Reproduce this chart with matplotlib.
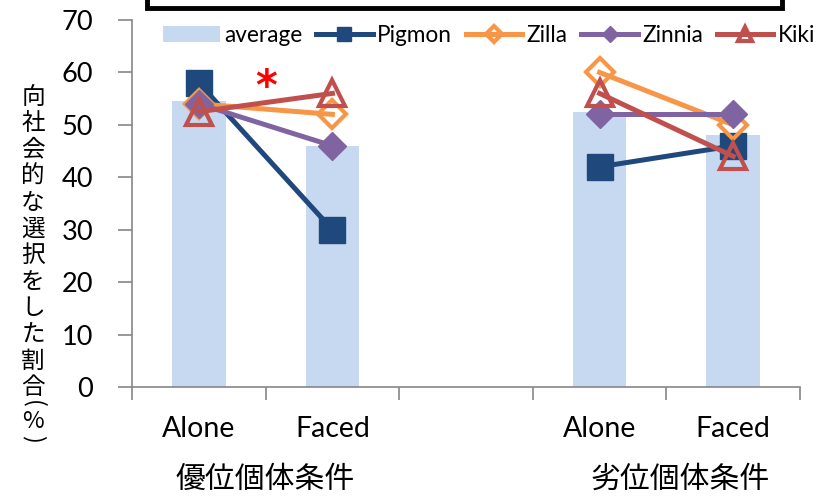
import matplotlib
matplotlib.use("Agg")
import matplotlib.pyplot as plt
from matplotlib.patches import Rectangle
import numpy as np

plt.rcParams['font.family'] = ['Lato', 'Noto Sans CJK JP', 'DejaVu Sans']

# ---- data ----
conditions = ["Alone", "Faced", "", "Alone", "Faced"]
groups = ["優位個体条件", "劣位個体条件"]
average = [54.5, 46.0, 52.5, 48.0]
pigmon = [58, 30, 42, 46]
zilla = [54, 52, 60, 50]
zinnia = [54, 46, 52, 52]
kiki = [52.5, 56, 56, 44]
y_label = "向社会的な選択をした割合(%)"
y_ticks = [0, 10, 20, 30, 40, 50, 60, 70]

W, H = 836, 496
fig = plt.figure(figsize=(W / 100, H / 100), dpi=100)
ax = fig.add_axes([132 / W, 1 - 387 / H, (800 - 132) / W, (387 - 20) / H])

xpos = [0, 1, 3, 4]
bar_color = "#C6D9F1"
bars = ax.bar(xpos, average, width=0.4, color=bar_color, zorder=1, label="average")
handles = [bars]

series = [
    ("Pigmon", pigmon, "#1F497D", "s", dict(markerfacecolor="#1F497D", markersize=19)),
    ("Zilla", zilla, "#F79646", "D", dict(markerfacecolor="none", markersize=14, markeredgewidth=3)),
    ("Zinnia", zinnia, "#8064A2", "D", dict(markerfacecolor="#8064A2", markersize=14)),
    ("Kiki", kiki, "#C0504D", "^", dict(markerfacecolor="none", markersize=19, markeredgewidth=3)),
]
for i, (name, vals, col, mk, kw) in enumerate(series):
    for j, (a, b) in enumerate([(0, 2), (2, 4)]):
        ln, = ax.plot(xpos[a:b], vals[a:b], color=col, lw=3.6, marker=mk,
                      markeredgecolor=col, zorder=3 + i,
                      label=name if j == 0 else None, **kw)
        if j == 0:
            handles.append(ln)

ax.set_xlim(-0.5, 4.5)
ax.set_ylim(0, 70)
ax.set_yticks(y_ticks)
ax.set_xticks(range(5))
ax.set_xticklabels(conditions)
ax.set_xticks(np.arange(-0.5, 4.6, 1), minor=True)
ax.tick_params(axis="x", which="major", length=0, pad=21, labelsize=20.5)
ax.tick_params(axis="x", which="minor", length=9, width=1.2, color="#868686", direction="out")
ax.tick_params(axis="y", length=10, width=1.2, color="#868686", direction="out", pad=18, labelsize=19.5)
for s in ["top", "right"]:
    ax.spines[s].set_visible(False)
for s in ["left", "bottom"]:
    ax.spines[s].set_color("#868686")
    ax.spines[s].set_linewidth(1.2)

# group labels
gy = -(479 - 387) / (387 - 20)
ax.text(0.5, gy, groups[0], ha="center", va="center", fontsize=21.5,
        transform=ax.get_xaxis_transform(), clip_on=False)
ax.text(3.6, gy, groups[1], ha="center", va="center", fontsize=21.5,
        transform=ax.get_xaxis_transform(), clip_on=False)

# asterisk
ax.text(0.5, 57, "*", color="red", fontsize=30, fontweight="bold",
        ha="center", va="center", family="DejaVu Sans", zorder=10)

# vertical y label
ypx = [97.5 + 26.4 * k for k in range(12)] + [404, 421, 439]
rots = [0] * 12 + [-90, 0, -90]
for ch, yy, rot in zip(y_label, ypx, rots):
    fig.text(33 / W, 1 - yy / H, ch, ha="center", va="center", fontsize=17,
             rotation=rot, rotation_mode="anchor",
             family=["Noto Sans CJK JP", "DejaVu Sans"])

# legend
leg = ax.legend(handles=handles, labels=["average", "Pigmon", "Zilla", "Zinnia", "Kiki"],
                loc="center left", bbox_to_anchor=(163 / W, 1 - 35 / H),
                bbox_transform=fig.transFigure, ncol=5, frameon=False,
                fontsize=16.3, handlelength=2.5, handletextpad=0.2,
                columnspacing=0.6, markerscale=0.55, borderaxespad=0, borderpad=0)

# top box (partially visible)
fig.patches.append(Rectangle((147 / W, 1 - 8 / H), (782 - 147) / W, 30 / H,
                             transform=fig.transFigure, facecolor="white",
                             edgecolor="black", linewidth=3.5, figure=fig))

fig.savefig("out.png", dpi=100)
